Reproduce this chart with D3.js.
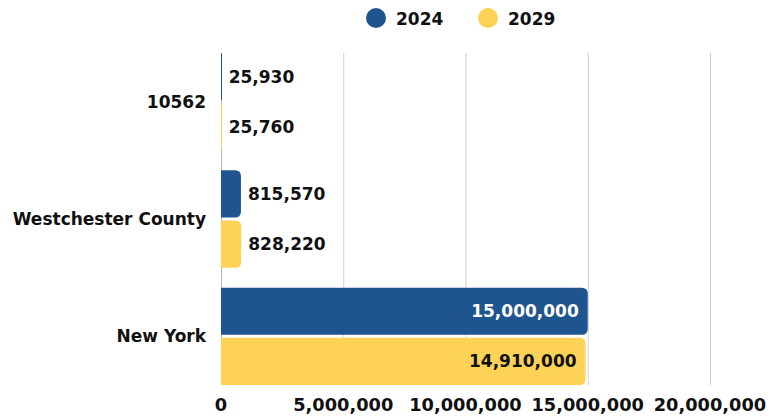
<!DOCTYPE html>
<html>
<head>
<meta charset="utf-8">
<script src="https://cdn.jsdelivr.net/npm/d3@7"></script>
<style>
  body { margin: 0; background: #fff; }
  text { font-family: "DejaVu Sans", sans-serif; font-weight: 700; fill: #111; font-size: 17px; }
</style>
</head>
<body>
<div id="chart"></div>
<script>
// data
var categories = ["10562", "Westchester County", "New York"];
var years = ["2024", "2029"];
var values2024 = [25930, 815570, 15000000];
var values2029 = [25760, 828220, 14910000];
var xTicks = [0, 5000000, 10000000, 15000000, 20000000];

var colors = { "2024": "#1f558f", "2029": "#fdd257" };

var w = 771, h = 417;
var plotLeft = 221, plotRight = 710, plotTop = 53, plotBottom = 385;

var svg = d3.select("#chart").append("svg")
    .attr("width", w)
    .attr("height", h);

var x = d3.scaleLinear().domain([0, 20000000]).range([plotLeft, plotRight]);
var y = d3.scaleBand().domain(categories).range([plotTop, plotBottom]).paddingInner(0.17);
var ySub = d3.scaleBand().domain(years).range([0, y.bandwidth()]).paddingInner(0.06);
var fmt = d3.format(",");

// gridlines
svg.append("g").selectAll("line")
    .data(xTicks)
    .enter().append("line")
    .attr("x1", d => x(d) + 0.5).attr("x2", d => x(d) + 0.5)
    .attr("y1", plotTop).attr("y2", plotBottom)
    .attr("stroke", d => d === 0 ? "#b8b8b8" : "#d0d0d0")
    .attr("stroke-width", 1);

// x axis labels
svg.append("g").selectAll("text")
    .data(xTicks)
    .enter().append("text")
    .attr("x", d => x(d))
    .attr("y", 410.5)
    .attr("text-anchor", "middle")
    .style("font-size", "17.8px")
    .text(d => fmt(d));

// category labels
svg.append("g").selectAll("text")
    .data(categories)
    .enter().append("text")
    .attr("x", 206)
    .attr("y", d => y(d) + y.bandwidth() / 2 + 6)
    .attr("text-anchor", "end")
    .text(d => d);

// bar path with rounded right corners
function barPath(x0, y0, bw, bh, r) {
    r = Math.min(r, bw, bh / 2);
    return "M" + x0 + "," + y0 +
        "H" + (x0 + bw - r) +
        "Q" + (x0 + bw) + "," + y0 + " " + (x0 + bw) + "," + (y0 + r) +
        "V" + (y0 + bh - r) +
        "Q" + (x0 + bw) + "," + (y0 + bh) + " " + (x0 + bw - r) + "," + (y0 + bh) +
        "H" + x0 + "Z";
}

var rows = [];
categories.forEach(function (c, i) {
    rows.push({ cat: c, year: "2024", value: values2024[i] });
    rows.push({ cat: c, year: "2029", value: values2029[i] });
});

function isInside(d) { return x(d.value) - x(0) > 150; }

var bars = svg.append("g").selectAll("g")
    .data(rows)
    .enter().append("g");

bars.append("path")
    .attr("d", d => barPath(x(0), y(d.cat) + ySub(d.year), Math.max(1, x(d.value) - x(0)), ySub.bandwidth(), 6))
    .attr("fill", d => colors[d.year]);

bars.append("text")
    .attr("x", d => isInside(d) ? x(d.value) - 9 : x(d.value) + 7)
    .attr("y", d => y(d.cat) + ySub(d.year) + ySub.bandwidth() / 2 + 6)
    .attr("text-anchor", d => isInside(d) ? "end" : "start")
    .style("fill", d => (isInside(d) && d.year === "2024") ? "#fff" : "#111")
    .text(d => fmt(d.value));

// legend
var legend = svg.append("g").selectAll("g")
    .data(years)
    .enter().append("g")
    .attr("transform", (d, i) => "translate(" + (376 + i * 112) + ",18)");

legend.append("circle")
    .attr("r", 10)
    .attr("fill", d => colors[d]);

legend.append("text")
    .attr("x", 20)
    .attr("y", 6.5)
    .text(d => d);
</script>
</body>
</html>
